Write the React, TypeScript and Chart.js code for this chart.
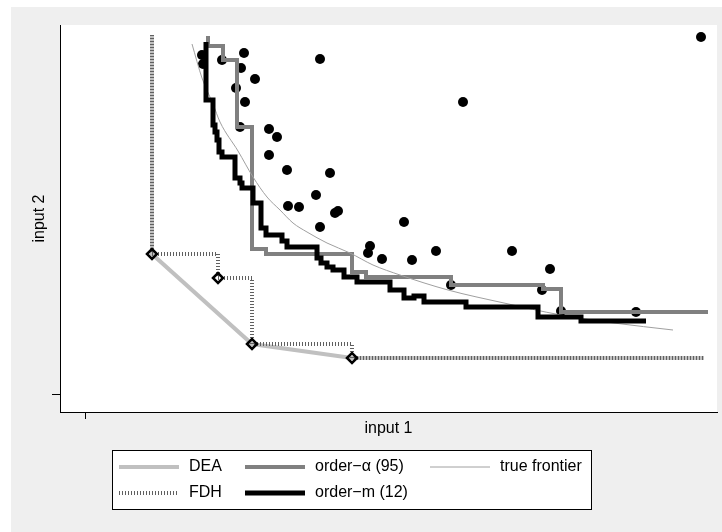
import React, { useEffect, useRef } from "react";
import { Chart, registerables } from "chart.js";

Chart.register(...registerables);

const FONT = "'Liberation Sans', Arial, Helvetica, sans-serif";

// ---- axis texts / ticks ----
const xTitle = "input 1";
const yTitle = "input 2";
const xTickValues = [0];
const yTickValues = [0];
const xRange = [-0.25, 6.32];
const yRange = [-0.18, 3.69];

// ---- observations (black dots) ----
const obsX = [6.16, 2.35, 3.78, 1.59, 1.37, 1.56, 1.70, 1.51, 1.60, 1.55, 1.84, 1.92, 1.84, 2.02, 2.45, 2.31, 2.03, 2.14, 2.50, 2.53, 2.35, 3.19, 2.85, 2.83, 2.97, 3.27, 3.51, 4.27, 4.65, 3.66, 4.57, 4.76, 5.51, 1.17, 1.18];
const obsY = [3.57, 3.35, 2.92, 3.41, 3.34, 3.26, 3.15, 3.06, 2.92, 2.67, 2.65, 2.57, 2.39, 2.24, 2.21, 1.99, 1.88, 1.87, 1.81, 1.83, 1.67, 1.72, 1.48, 1.41, 1.35, 1.34, 1.43, 1.43, 1.25, 1.09, 1.04, 0.83, 0.82, 3.39, 3.30];

// ---- FDH efficient points (diamonds) ----
const fdhPtsX = [0.67, 1.33, 1.67, 2.67];
const fdhPtsY = [1.40, 1.16, 0.50, 0.36];

// ---- DEA frontier ----
const deaX = [0.67, 0.67, 1.67, 2.67, 6.19];
const deaY = [3.59, 1.40, 0.50, 0.36, 0.36];

// ---- FDH frontier ----
const fdhX = [0.67, 0.67, 1.33, 1.33, 1.67, 1.67, 2.67, 2.67, 6.19];
const fdhY = [3.59, 1.40, 1.40, 1.16, 1.16, 0.50, 0.50, 0.36, 0.36];

// ---- order-alpha (95) frontier ----
const alphaX = [1.23, 1.23, 1.38, 1.38, 1.52, 1.52, 1.67, 1.67, 1.81, 1.81, 2.67, 2.67, 2.81, 2.81, 3.66, 3.66, 4.58, 4.58, 4.76, 4.76, 6.23];
const alphaY = [3.58, 3.48, 3.48, 3.34, 3.34, 2.67, 2.67, 1.45, 1.45, 1.40, 1.40, 1.22, 1.22, 1.17, 1.17, 1.09, 1.09, 1.05, 1.05, 0.82, 0.82];

// ---- order-m (12) frontier ----
const orderMX = [1.21, 1.21, 1.28, 1.28, 1.30, 1.30, 1.32, 1.32, 1.34, 1.34, 1.37, 1.37, 1.50, 1.50, 1.55, 1.55, 1.57, 1.57, 1.68, 1.68, 1.76, 1.76, 1.81, 1.81, 1.97, 1.97, 2.02, 2.02, 2.32, 2.32, 2.36, 2.36, 2.42, 2.42, 2.48, 2.48, 2.59, 2.59, 2.72, 2.72, 3.05, 3.05, 3.19, 3.19, 3.29, 3.29, 3.39, 3.39, 3.81, 3.81, 4.53, 4.53, 4.96, 4.96, 5.61];
const orderMY = [3.52, 2.94, 2.94, 2.69, 2.69, 2.62, 2.62, 2.54, 2.54, 2.42, 2.42, 2.37, 2.37, 2.16, 2.16, 2.11, 2.11, 2.06, 2.06, 1.91, 1.91, 1.66, 1.66, 1.59, 1.59, 1.53, 1.53, 1.47, 1.47, 1.36, 1.36, 1.31, 1.31, 1.27, 1.27, 1.24, 1.24, 1.17, 1.17, 1.12, 1.12, 1.04, 1.04, 0.96, 0.96, 0.98, 0.98, 0.92, 0.92, 0.87, 0.87, 0.77, 0.77, 0.73, 0.73];

// ---- true frontier ----
const trueX = [1.07, 1.17, 1.28, 1.35, 1.53, 1.68, 1.82, 1.95, 2.08, 2.22, 2.42, 2.65, 2.88, 3.15, 3.63, 4.19, 4.76, 5.29, 5.88];
const trueY = [3.50, 3.16, 2.90, 2.72, 2.43, 2.17, 1.97, 1.84, 1.71, 1.62, 1.51, 1.41, 1.29, 1.19, 1.04, 0.91, 0.79, 0.71, 0.64];

// ---- legend (in display order, 3 columns) ----
const legendLabels = ["DEA", "order\u2212\u03b1 (95)", "true frontier", "FDH", "order\u2212m (12)"];

const toPts = (xs: number[], ys: number[]) => xs.map((x, i) => ({ x, y: ys[i] }));

const bgPlugin = {
  id: "stataBg",
  beforeDraw(chart: any) {
    const { ctx, chartArea: a, width, height } = chart;
    ctx.save();
    ctx.fillStyle = "#efefef";
    ctx.fillRect(0, 0, width, height);
    ctx.fillStyle = "#ffffff";
    ctx.fillRect(a.left, a.top, a.right - a.left, a.bottom - a.top);
    ctx.restore();
  },
};

const legendPlugin = {
  id: "stataLegend",
  afterDraw(chart: any) {
    const ctx = chart.ctx;
    ctx.save();
    ctx.fillStyle = "#ffffff";
    ctx.fillRect(101.5, 443.5, 479, 59);
    ctx.strokeStyle = "#000000";
    ctx.lineWidth = 1;
    ctx.strokeRect(101.5, 443.5, 479, 59);
    const cols = [108, 234, 419];
    const rows = [460, 486];
    legendLabels.forEach((label, k) => {
      const ds = chart.data.datasets.find((d: any) => d.label === label);
      if (!ds) return;
      const x0 = cols[k % 3];
      const y = rows[Math.floor(k / 3)];
      ctx.beginPath();
      ctx.strokeStyle = ds.borderColor;
      ctx.lineWidth = ds.borderWidth;
      ctx.lineCap = "butt";
      ctx.setLineDash(ds.borderDash || []);
      ctx.moveTo(x0, y);
      ctx.lineTo(x0 + 60, y);
      ctx.stroke();
      ctx.setLineDash([]);
      ctx.fillStyle = "#000000";
      ctx.font = `16px ${FONT}`;
      ctx.textBaseline = "middle";
      ctx.textAlign = "left";
      ctx.fillText(label, x0 + 70, y);
    });
    ctx.restore();
  },
};

export default function App() {
  const ref = useRef<HTMLCanvasElement | null>(null);

  useEffect(() => {
    if (!ref.current) return;
    Chart.defaults.font.family = FONT;
    const lineBase = {
      showLine: true,
      pointRadius: 0,
      pointHoverRadius: 0,
      fill: false,
      borderJoinStyle: "miter" as const,
      borderCapStyle: "butt" as const,
    };
    const chart = new Chart(ref.current, {
      type: "scatter",
      data: {
        datasets: [
          {
            ...lineBase,
            label: "order\u2212m (12)",
            data: toPts(orderMX, orderMY),
            borderColor: "#000000",
            borderWidth: 5,
            order: 0,
          },
          {
            ...lineBase,
            label: "true frontier",
            data: toPts(trueX, trueY),
            borderColor: "#a0a0a0",
            borderWidth: 1,
            cubicInterpolationMode: "monotone",
            order: 1,
          },
          {
            ...lineBase,
            label: "order\u2212\u03b1 (95)",
            data: toPts(alphaX, alphaY),
            borderColor: "#808080",
            borderWidth: 4,
            order: 2,
          },
          {
            label: "FDH points",
            data: toPts(fdhPtsX, fdhPtsY),
            showLine: false,
            pointStyle: "rectRot",
            pointRadius: 5,
            pointHoverRadius: 5,
            pointBorderWidth: 2.5,
            pointBorderColor: "#000000",
            pointBackgroundColor: "rgba(0,0,0,0)",
            order: 3,
          },
          {
            ...lineBase,
            label: "FDH",
            data: toPts(fdhX, fdhY),
            borderColor: "#606060",
            borderWidth: 4,
            borderDash: [1, 2],
            order: 4,
          },
          {
            ...lineBase,
            label: "DEA",
            data: toPts(deaX, deaY),
            borderColor: "#c0c0c0",
            borderWidth: 4,
            order: 5,
          },
          {
            label: "observations",
            data: toPts(obsX, obsY),
            showLine: false,
            pointRadius: 5,
            pointHoverRadius: 5,
            pointBorderWidth: 0,
            pointBackgroundColor: "#000000",
            order: 6,
          },
        ] as any,
      },
      options: {
        animation: false,
        responsive: false,
        devicePixelRatio: 1,
        events: [],
        layout: {
          autoPadding: false,
          padding: { left: 0, top: 18, right: 5, bottom: 90 },
        },
        plugins: {
          legend: { display: false },
          tooltip: { enabled: false },
        },
        scales: {
          x: {
            type: "linear",
            min: xRange[0],
            max: xRange[1],
            afterBuildTicks: (s: any) => {
              s.ticks = xTickValues.map((v) => ({ value: v }));
            },
            afterFit: (s: any) => {
              s.height = 30;
            },
            ticks: { display: false },
            grid: {
              drawOnChartArea: false,
              drawTicks: true,
              tickLength: 7,
              color: "#000000",
              lineWidth: 1,
            },
            border: { display: true, color: "#000000", width: 1 },
            title: {
              display: true,
              text: xTitle,
              color: "#000000",
              font: { size: 16, family: FONT },
              padding: { top: 0, bottom: 4 },
            },
          },
          y: {
            type: "linear",
            min: yRange[0],
            max: yRange[1],
            afterBuildTicks: (s: any) => {
              s.ticks = yTickValues.map((v) => ({ value: v }));
            },
            afterFit: (s: any) => {
              s.width = 49;
            },
            ticks: { display: false },
            grid: {
              drawOnChartArea: false,
              drawTicks: true,
              tickLength: 8,
              color: "#000000",
              lineWidth: 1,
            },
            border: { display: true, color: "#000000", width: 1 },
            title: {
              display: true,
              text: yTitle,
              color: "#000000",
              font: { size: 16, family: FONT },
              padding: { top: 19, bottom: 0 },
            },
          },
        },
      },
      plugins: [bgPlugin, legendPlugin],
    });
    return () => chart.destroy();
  }, []);

  return (
    <div style={{ position: "absolute", left: 11, top: 7, width: 711, height: 525 }}>
      <canvas ref={ref} width={711} height={525} style={{ display: "block", width: 711, height: 525 }} />
    </div>
  );
}
